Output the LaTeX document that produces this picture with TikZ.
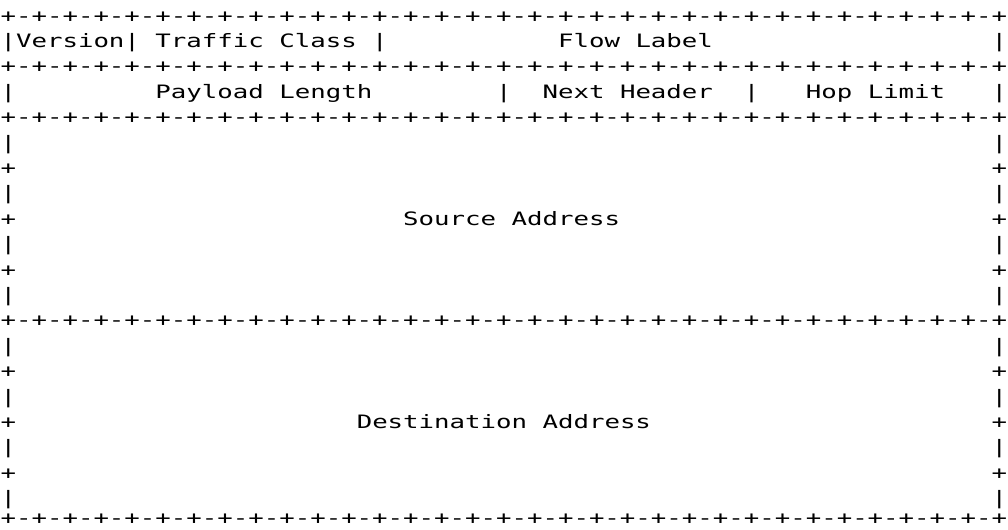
\documentclass[tikz,border=0pt]{standalone}
\usepackage{fontspec}
\usepackage{graphicx}
\usetikzlibrary{positioning}
\newfontfamily\asciifont{DejaVu Sans Mono}
% one character cell of the header dump, stretched to the width of the original
\newcommand{\stretchrow}[1]{\scalebox{1.394}[1]{#1}}
\newcommand{\blanks}[1]{\hspace*{#1\fontcharwd\font`M}}
\newcommand{\hborder}{+-+-+-+-+-+-+-+-+-+-+-+-+-+-+-+-+-+-+-+-+-+-+-+-+-+-+-+-+-+-+-+-+}
\newcommand{\sideline}{|\blanks{63}|}
\newcommand{\sideplus}{+\blanks{63}+}
\tikzstyle{asciirow} = [anchor=base west, inner sep=0pt, outer sep=0pt,
                        font=\asciifont\fontsize{10.5pt}{12pt}\selectfont]

\begin{document}
\begin{tikzpicture}
  \useasboundingbox (0,0) rectangle (20.16,-10.58);

  % Fixed part of the header
  \node (r0)  [asciirow] at (0.012,-0.440)  {\stretchrow{\hborder}};
  \node (r1)  [asciirow] at (0.012,-0.948)  {\stretchrow{|Version|~Traffic~Class~|\blanks{11}Flow~Label\blanks{18}|}};
  \node (r2)  [asciirow] at (0.012,-1.456)  {\stretchrow{\hborder}};
  \node (r3)  [asciirow] at (0.012,-1.964)  {\stretchrow{|\blanks{9}Payload~Length\blanks{8}|~~Next~Header~~|~~~Hop~Limit~~~|}};
  \node (r4)  [asciirow] at (0.012,-2.472)  {\stretchrow{\hborder}};

  % Source address
  \node (r5)  [asciirow] at (0.012,-2.980)  {\stretchrow{\sideline}};
  \node (r6)  [asciirow] at (0.012,-3.488)  {\stretchrow{\sideplus}};
  \node (r7)  [asciirow] at (0.012,-3.996)  {\stretchrow{\sideline}};
  \node (r8)  [asciirow] at (0.012,-4.504)  {\stretchrow{+\blanks{25}Source~Address\blanks{24}+}};
  \node (r9)  [asciirow] at (0.012,-5.012)  {\stretchrow{\sideline}};
  \node (r10) [asciirow] at (0.012,-5.520)  {\stretchrow{\sideplus}};
  \node (r11) [asciirow] at (0.012,-6.028)  {\stretchrow{\sideline}};
  \node (r12) [asciirow] at (0.012,-6.536)  {\stretchrow{\hborder}};

  % Destination address
  \node (r13) [asciirow] at (0.012,-7.044)  {\stretchrow{\sideline}};
  \node (r14) [asciirow] at (0.012,-7.552)  {\stretchrow{\sideplus}};
  \node (r15) [asciirow] at (0.012,-8.060)  {\stretchrow{\sideline}};
  \node (r16) [asciirow] at (0.012,-8.568)  {\stretchrow{+\blanks{22}Destination~Address\blanks{22}+}};
  \node (r17) [asciirow] at (0.012,-9.076)  {\stretchrow{\sideline}};
  \node (r18) [asciirow] at (0.012,-9.584)  {\stretchrow{\sideplus}};
  \node (r19) [asciirow] at (0.012,-10.092) {\stretchrow{\sideline}};
  \node (r20) [asciirow] at (0.012,-10.480) {\stretchrow{\hborder}};
\end{tikzpicture}
\end{document}
